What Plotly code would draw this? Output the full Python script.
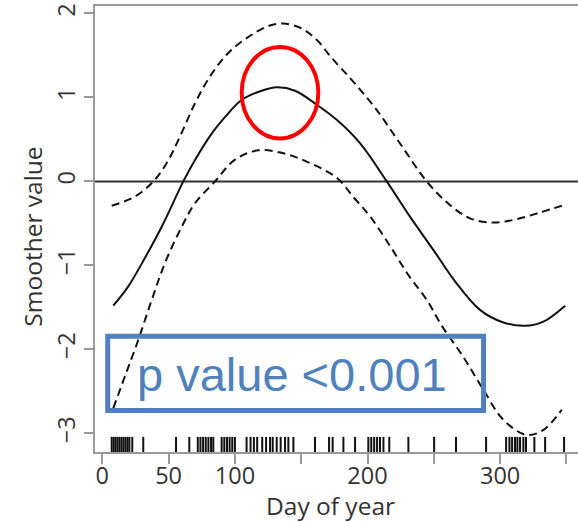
import plotly.graph_objects as go

# ---- data ----
mean_day = [8.3, 19.6, 32.2, 44.8, 61.1, 69.9, 82.5, 95, 105, 120.2, 131.5, 145.3, 162,
            177, 194.3, 214.5, 232, 249.6, 266, 284.8, 302.4, 318.8, 332.6, 349]
mean_val = [-1.48, -1.25, -0.91, -0.54, 0.0, 0.256, 0.57, 0.81, 0.97, 1.08, 1.12, 1.08, 0.91,
            0.73, 0.455, 0.0, -0.42, -0.815, -1.19, -1.53, -1.68, -1.72, -1.67, -1.48]

upper_day = [7.1, 24.7, 38.5, 48.6, 57.3, 69.9, 81.2, 95, 110.1, 125.2, 136.5, 150.4, 162,
             173, 188, 206, 225, 244.6, 262, 277.3, 294.9, 312.5, 330.1, 346.5]
upper_val = [-0.29, -0.18, 0.0, 0.22, 0.49, 0.93, 1.25, 1.53, 1.72, 1.85, 1.88, 1.82, 1.68,
             1.47, 1.21, 0.87, 0.44, 0.0, -0.28, -0.44, -0.49, -0.45, -0.37, -0.29]

lower_day = [8.3, 17.1, 27.1, 37.3, 47.3, 59.9, 69.9, 85, 100.1, 117.6, 135.3, 155,
             177, 189.5, 202, 217, 231, 244.6, 256, 272.2, 287.3, 302.4, 320, 332.6, 346.5]
lower_val = [-2.70, -2.32, -1.89, -1.41, -0.97, -0.54, -0.26, 0.0, 0.26, 0.37, 0.34, 0.23,
             0.04, -0.19, -0.42, -0.77, -1.12, -1.41, -1.72, -2.09, -2.48, -2.84, -3.02, -2.96, -2.72]

rug_days = [7.1, 8.6, 10, 11.5, 13, 14.5, 16, 17.5, 19, 20.4, 22.6, 30.9, 55.6, 65.6,
            72, 74, 76, 78, 80, 82, 83.7, 90, 92, 94, 96, 98, 100,
            108.8, 111.8, 114.3, 116.8, 120.6, 123.5, 126.5, 128.5, 131.5, 134.5, 137.8, 140.3, 144.1,
            160.4, 171, 173.7, 181.8, 190.6, 200.6, 202.8, 205, 207.2, 209.4, 212, 216.4, 230.8,
            250.2, 266.7, 289.4, 304.5, 307, 309, 311.2, 313, 315, 317.5, 319.5, 325.8, 333.9, 348.2]

x_tickvals = [0, 50, 100, 150, 200, 250, 300, 350]
x_ticktext = ["0", "50", "100", "", "200", "", "300", ""]
y_tickvals = [-3, -2, -1, 0, 1, 2]
y_ticktext = ["\u22123", "\u22122", "\u22121", "0", "1", "2"]

x_range = [-5.5, 358.7]
y_range = [-3.223, 2.089]

x_title = "Day of year"
y_title = "Smoother value"
annot_text = "p value <0.001"
highlight_center = (134.0, 1.057)
highlight_radius = (28.9, 0.545)
box_x = (4.1, 287.5)
box_y = (-2.73, -1.845)

# ---- figure ----
fig = go.Figure()

# rug
rug_x, rug_y = [], []
rug_top = y_range[0] + 0.18
for d in rug_days:
    rug_x += [d, d, None]
    rug_y += [y_range[0], rug_top, None]
fig.add_trace(go.Scatter(x=rug_x, y=rug_y, mode="lines",
                         line=dict(color="#111111", width=2), hoverinfo="skip"))

dash_style = "8px,5px"
fig.add_trace(go.Scatter(x=upper_day, y=upper_val, mode="lines",
                         line=dict(color="#111111", width=2, dash=dash_style, shape="spline")))
fig.add_trace(go.Scatter(x=lower_day, y=lower_val, mode="lines",
                         line=dict(color="#111111", width=2, dash=dash_style, shape="spline")))
fig.add_trace(go.Scatter(x=mean_day, y=mean_val, mode="lines",
                         line=dict(color="#111111", width=2, shape="spline")))

# zero reference line
fig.add_shape(type="line", xref="x domain", yref="y", x0=0, x1=1, y0=0, y1=0,
              line=dict(color="#333333", width=2), layer="below")

# red highlight ellipse
cx, cy = highlight_center
rx, ry = highlight_radius
fig.add_shape(type="circle", xref="x", yref="y", x0=cx - rx, x1=cx + rx, y0=cy - ry, y1=cy + ry,
              line=dict(color="#FF0000", width=4))

# blue annotation box
fig.add_shape(type="rect", xref="x", yref="y", x0=box_x[0], x1=box_x[1], y0=box_y[0], y1=box_y[1],
              line=dict(color="#4F81BD", width=5))
fig.add_annotation(x=142.7, y=-2.30, xref="x", yref="y",
                   text=annot_text, showarrow=False,
                   font=dict(family="Liberation Sans, Arial", size=47, color="#4F81BD"))

# axis titles
title_font = dict(family="Open Sans", size=24.5, color="#333333")
fig.add_annotation(x=0.4886, y=-0.121, xref="paper", yref="paper", text=x_title,
                   showarrow=False, xanchor="center", yanchor="middle", borderpad=0,
                   font=title_font)
fig.add_annotation(x=-0.1284, y=0.4827, xref="paper", yref="paper", text=y_title,
                   showarrow=False, xanchor="center", yanchor="middle", textangle=-90,
                   borderpad=0, font=title_font)

axis_font = dict(family="Open Sans", size=23.5, color="#333333")
fig.update_layout(
    width=578, height=523,
    margin=dict(l=95, r=0, t=6, b=71),
    paper_bgcolor="white", plot_bgcolor="white",
    showlegend=False,
    xaxis=dict(range=x_range, tickvals=x_tickvals, ticktext=x_ticktext,
               showgrid=False, zeroline=False, showline=True, mirror=True,
               linecolor="#999999", linewidth=1.5,
               ticks="outside", ticklen=10, tickcolor="#999999", tickwidth=1.5,
               tickfont=axis_font, ticklabelstandoff=-8),
    yaxis=dict(range=y_range, tickvals=y_tickvals, ticktext=y_ticktext, tickangle=-90,
               showgrid=False, zeroline=False, showline=True,
               linecolor="#999999", linewidth=1.5,
               ticks="outside", ticklen=9, tickcolor="#999999", tickwidth=1.5,
               tickfont=axis_font),
)

fig.write_html("out.html")
